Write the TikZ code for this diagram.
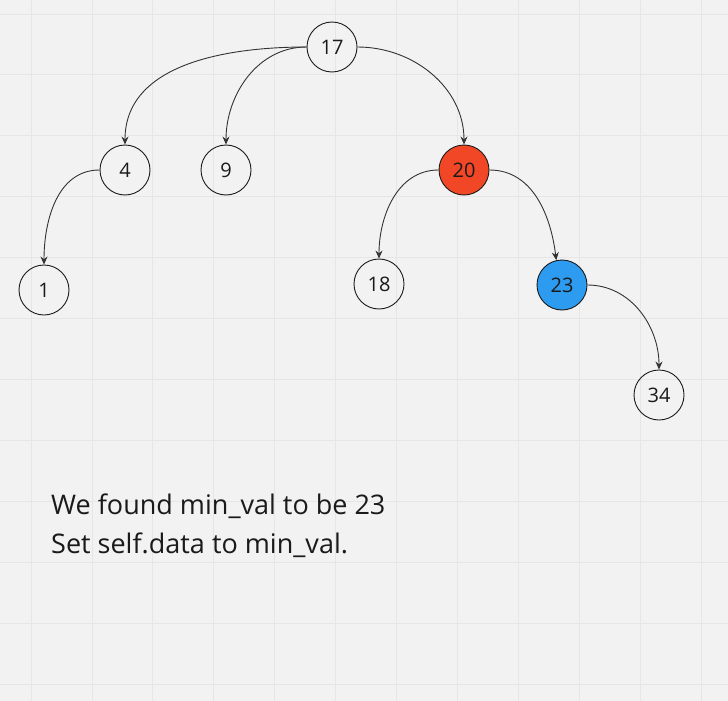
\documentclass[tikz,border=0pt]{standalone}
\usepackage{fontspec}
\setmainfont{Open Sans}
\usetikzlibrary{arrows.meta}
\definecolor{bgc}{HTML}{F2F2F2}
\definecolor{gridc}{HTML}{E6E6E6}
\definecolor{redc}{HTML}{F24726}
\definecolor{bluec}{HTML}{2D9BF0}
\definecolor{linec}{HTML}{333333}
\definecolor{txtc}{HTML}{1A1A1A}
\tikzset{
  tn/.style={circle, draw=txtc, line width=0.9pt, minimum size=50pt, inner sep=0pt, text=txtc, font=\fontsize{20}{24}\selectfont},
  edge/.style={draw=linec, line width=0.9pt, -{Stealth[length=8pt,width=7pt]}},
}
\begin{document}
\begin{tikzpicture}[x=1pt,y=-1pt]
\fill[bgc] (0,0) rectangle (728,701);
\useasboundingbox (0,0) rectangle (728,701);
\foreach \i in {0,...,11} {
  \draw[gridc, line width=0.8pt] ({31+60.9*\i},0) -- ({31+60.9*\i},701);
  \draw[gridc, line width=0.8pt] (0,{14+60.9*\i}) -- (728,{14+60.9*\i});
}
\node[tn] (n17) at (332,47) {17};
\node[tn] (n4) at (125,170) {4};
\node[tn] (n9) at (226,170) {9};
\node[tn, fill=redc] (n20) at (464,170) {20};
\node[tn] (n1) at (44,290) {1};
\node[tn] (n18) at (379,284) {18};
\node[tn, fill=bluec] (n23) at (562,285) {23};
\node[tn] (n34) at (659,395) {34};
\draw[edge] (n17.west) to[out=180,in=90] (n4.north);
\draw[edge] (n17.west) to[out=180,in=90] (n9.north);
\draw[edge] (n17.east) to[out=0,in=90] (n20.north);
\draw[edge] (n4.west) to[out=180,in=90] (n1.north);
\draw[edge] (n20.west) to[out=180,in=90] (n18.north);
\draw[edge] (n20.east) to[out=0,in=97] (n23.103);
\draw[edge] (n23.east) to[out=0,in=90] (n34.north);
\node[anchor=base west, align=left, text=txtc, font=\fontsize{27}{39}\selectfont, inner sep=0pt] (msg) at (51,553) {We found min\_val to be 23\\Set self.data to min\_val.};
\end{tikzpicture}
\end{document}
